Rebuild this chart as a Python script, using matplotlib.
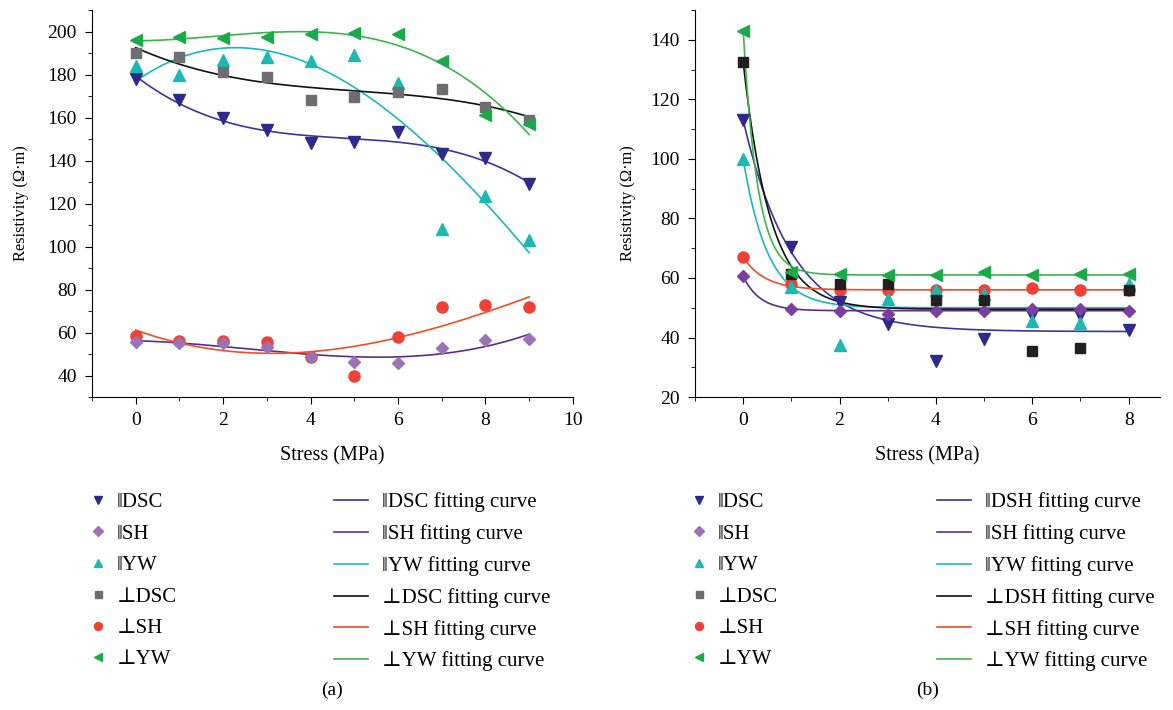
import numpy as np
import matplotlib
matplotlib.use('Agg')
import matplotlib.pyplot as plt
from matplotlib.lines import Line2D
from matplotlib.ticker import MultipleLocator

plt.rcParams['font.family'] = ['Liberation Serif', 'DejaVu Serif']
plt.rcParams['font.size'] = 13

# panel (a)
stress_a = [0, 1, 2, 3, 4, 5, 6, 7, 8, 9]
a_par_dsc = [178, 168, 160, 154, 148, 148.5, 153.5, 143, 141, 129]
a_par_sh = [55.5, 55, 55, 53.5, 48.5, 46.5, 46, 53, 56.5, 57]
a_par_yw = [184, 180, 187, 188, 186.5, 189, 176, 108, 123.5, 103]
a_per_dsc = [190, 188, 181, 179, 168, 169.5, 172, 173.5, 165, 159]
a_per_sh = [58.5, 56, 56, 55.5, 48.5, 40, 58, 72, 73, 72]
a_per_yw = [196, 197.5, 197, 197.5, 199, 199.5, 199, 186.5, 161, 157]

# panel (b)
stress_b = [0, 1, 2, 3, 4, 5, 6, 7, 8]
b_par_dsc = [113, 70.5, 52, 44.5, 32, 39.5, 47.5, 47.5, 42.5]
b_par_sh = [60.5, 49.5, 49, 48, 49, 49, 49.5, 49.5, 49]
b_par_yw = [100, 57, 37.5, 53, 56, 54.5, 45.5, 45, 58]
b_per_dsc = [132.5, 61.5, 58, 58, 52.5, 52.5, 35.5, 36.5, 56]
b_per_sh = [67, 58, 56, 56, 56, 56, 56.5, 56, 56]
b_per_yw = [143, 62, 61.5, 61, 61, 62, 61, 61.5, 61.5]

# exponential decay fits for (b): y0 + A*exp(-x/t)
b_fit_y0 = [42, 49, 50, 49.5, 56, 61]
b_fit_A = [71, 11.5, 50, 83, 11, 82]
b_fit_t = [1.02, 0.35, 0.51, 0.57, 0.45, 0.3]

par_labels = ['\u2016DSC', '\u2016SH', '\u2016YW', '\u22a5DSC', '\u22a5SH', '\u22a5YW']
fit_labels_a = ['\u2016DSC fitting curve', '\u2016SH fitting curve', '\u2016YW fitting curve',
                '\u22a5DSC fitting curve', '\u22a5SH fitting curve', '\u22a5YW fitting curve']
fit_labels_b = ['\u2016DSH fitting curve', '\u2016SH fitting curve', '\u2016YW fitting curve',
                '\u22a5DSH fitting curve', '\u22a5SH fitting curve', '\u22a5YW fitting curve']

markers = ['v', 'D', '^', 's', 'o', '<']
msizes = [8, 6.5, 8, 7, 8, 8]
mcolors_a = ['#2e2a8c', '#9b72b6', '#1cb8b2', '#6d6e71', '#ef4136', '#1aaa4a']
mcolors_b = ['#2e2a8c', '#7b3fa0', '#1cb8b2', '#231f20', '#ef4136', '#1aaa4a']
lcolors = ['#3a35a0', '#5c2d91', '#1ab9b9', '#111111', '#f04e23', '#3cb54a']

fig = plt.figure(figsize=(11.73, 7.1), dpi=100)
ax1 = fig.add_axes([0.0784, 0.4408, 0.410, 0.545])
ax2 = fig.add_axes([0.5925, 0.4408, 0.3964, 0.545])

def style(ax, ypad):
    for s in ['top', 'right']:
        ax.spines[s].set_visible(False)
    ax.tick_params(which='both', direction='out', labelsize=14, pad=6)
    ax.tick_params(which='major', length=5)
    ax.tick_params(which='minor', length=3)
    ax.set_xlabel('Stress (MPa)', fontsize=14.5, labelpad=12)
    ax.set_ylabel('Resistivity (\u03a9\u00b7m)', fontsize=11.8, labelpad=ypad)

# panel (a) points and cubic fits
a_series = [a_par_dsc, a_par_sh, a_par_yw, a_per_dsc, a_per_sh, a_per_yw]
order = [4, 0, 1, 2, 3, 5]
xs = np.linspace(0, 9, 200)
for i in range(6):
    c = np.polyfit(stress_a, a_series[i], 3)
    ax1.plot(xs, np.polyval(c, xs), color=lcolors[i], lw=1.2, zorder=2)
for i in order:
    ax1.plot(stress_a, a_series[i], linestyle='none', marker=markers[i], ms=msizes[i],
             color=mcolors_a[i], zorder=3)
ax1.set_xlim(-1, 10)
ax1.set_ylim(30, 210)
ax1.xaxis.set_major_locator(MultipleLocator(2))
ax1.xaxis.set_minor_locator(MultipleLocator(1))
ax1.yaxis.set_major_locator(MultipleLocator(20))
ax1.yaxis.set_minor_locator(MultipleLocator(10))
style(ax1, 13)

# panel (b)
b_series = [b_par_dsc, b_par_sh, b_par_yw, b_per_dsc, b_per_sh, b_per_yw]
xs = np.linspace(0, 8, 300)
for i in range(6):
    ax2.plot(xs, b_fit_y0[i] + b_fit_A[i] * np.exp(-xs / b_fit_t[i]),
             color=lcolors[i], lw=1.2, zorder=2)
for i in order:
    ax2.plot(stress_b, b_series[i], linestyle='none', marker=markers[i], ms=msizes[i],
             color=mcolors_b[i], zorder=3)
ax2.set_xlim(-1, 8.65)
ax2.set_ylim(20, 150)
ax2.xaxis.set_major_locator(MultipleLocator(2))
ax2.xaxis.set_minor_locator(MultipleLocator(1))
ax2.yaxis.set_major_locator(MultipleLocator(20))
ax2.yaxis.set_minor_locator(MultipleLocator(10))
style(ax2, 10)

# legends below each panel: marker column and fitting-curve column
for x0, x1, fit_labels in [(0.0678, 0.2779, fit_labels_a), (0.580, 0.792, fit_labels_b)]:
    mh = [Line2D([], [], linestyle='none', marker=markers[i], ms=msizes[i] * 0.72,
                 color=mcolors_a[i]) for i in range(6)]
    lh = [Line2D([], [], color=lcolors[i], lw=1.2) for i in range(6)]
    fig.legend(mh, par_labels, loc='upper left', bbox_to_anchor=(x0, 0.318),
               frameon=False, fontsize=15, handlelength=1.0, handletextpad=0.4,
               labelspacing=0.57, borderaxespad=0)
    fig.legend(lh, fit_labels, loc='upper left', bbox_to_anchor=(x1, 0.318),
               frameon=False, fontsize=15, handlelength=1.6, handletextpad=0.67,
               labelspacing=0.57, borderaxespad=0)
for ax, tag in [(ax1, '(a)'), (ax2, '(b)')]:
    pos = ax.get_position()
    fig.text((pos.x0 + pos.x1) / 2, 0.028, tag, ha='center', va='center', fontsize=14)

fig.savefig('out.png', dpi=100)
